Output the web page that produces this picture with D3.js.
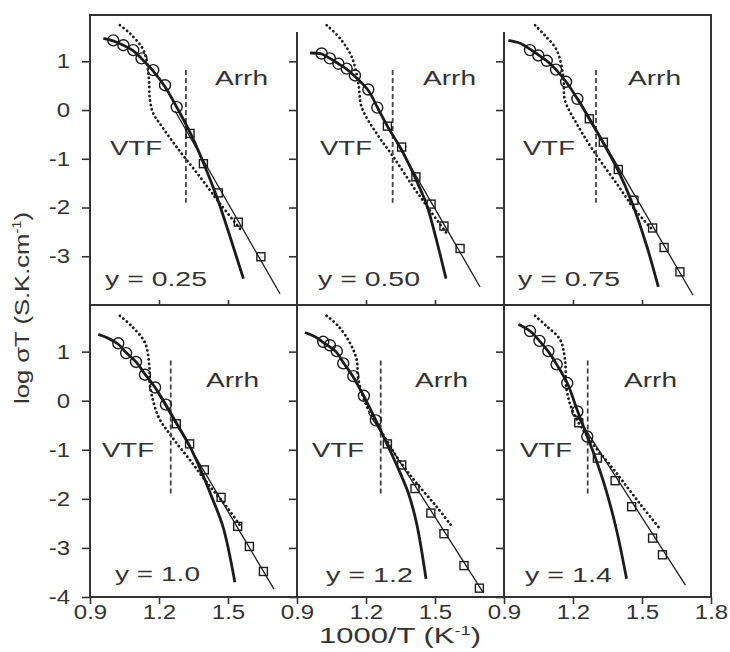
<!DOCTYPE html>
<html>
<head>
<meta charset="utf-8">
<script src="https://d3js.org/d3.v7.min.js"></script>
<style>
  body { margin: 0; background: #fff; }
  text { font-family: "Liberation Sans", Arial, sans-serif; fill: #333; }
</style>
</head>
<body>
<div id="chart"></div>
<script>
// panel captions (composition)
var panelLabels = ["y = 0.25", "y = 0.50", "y = 0.75", "y = 1.0", "y = 1.2", "y = 1.4"];
var xTicks = [0.9, 1.2, 1.5, 1.8];
var yTicksTop = [1, 0, -1, -2, -3];
var yTicksBottom = [1, 0, -1, -2, -3, -4];

// high temperature points (circles), [1000/T, log sigmaT]
var circleData = [
  [[1.001,1.43],[1.045,1.33],[1.088,1.23],[1.124,1.06],[1.175,0.82],[1.226,0.51],[1.277,0.06]],
  [[1.007,1.16],[1.043,1.06],[1.080,0.95],[1.116,0.85],[1.152,0.71],[1.210,0.42],[1.249,0.05]],
  [[1.013,1.23],[1.049,1.12],[1.086,1.01],[1.126,0.83],[1.170,0.58],[1.219,0.23]],
  [[1.023,1.17],[1.057,0.97],[1.100,0.79],[1.139,0.53],[1.183,0.27],[1.230,-0.08]],
  [[1.014,1.20],[1.043,1.13],[1.073,1.01],[1.101,0.76],[1.145,0.50],[1.191,0.10],[1.243,-0.40]],
  [[1.013,1.42],[1.054,1.22],[1.093,1.01],[1.129,0.74],[1.175,0.36],[1.219,-0.22],[1.262,-0.73]]
];

// low temperature points (squares)
var squareData = [
  [[1.335,-0.48],[1.393,-1.10],[1.458,-1.70],[1.545,-2.30],[1.643,-3.01]],
  [[1.293,-0.33],[1.355,-0.76],[1.417,-1.37],[1.483,-1.93],[1.539,-2.38],[1.609,-2.84]],
  [[1.271,-0.18],[1.332,-0.66],[1.397,-1.22],[1.465,-1.85],[1.546,-2.42],[1.596,-2.82],[1.665,-3.32]],
  [[1.275,-0.47],[1.333,-0.88],[1.397,-1.41],[1.470,-1.97],[1.542,-2.56],[1.593,-2.97],[1.654,-3.48]],
  [[1.293,-0.88],[1.355,-1.31],[1.413,-1.79],[1.482,-2.29],[1.539,-2.71],[1.626,-3.36],[1.693,-3.82]],
  [[1.225,-0.45],[1.306,-1.17],[1.383,-1.63],[1.455,-2.16],[1.546,-2.80],[1.589,-3.14]]
];

// VTF fit (thick curve)
var vtfFit = [
  [[0.958,1.47],[1.00,1.42],[1.045,1.33],[1.09,1.21],[1.125,1.05],[1.175,0.80],[1.226,0.48],[1.277,0.06],[1.335,-0.46],[1.393,-1.08],[1.451,-1.78],[1.509,-2.60],[1.567,-3.46]],
  [[0.957,1.17],[1.007,1.15],[1.043,1.06],[1.08,0.95],[1.116,0.84],[1.152,0.69],[1.21,0.40],[1.249,0.06],[1.293,-0.33],[1.355,-0.82],[1.417,-1.42],[1.464,-1.95],[1.50,-2.55],[1.548,-3.46]],
  [[0.919,1.43],[0.97,1.37],[1.013,1.25],[1.049,1.13],[1.086,1.01],[1.126,0.83],[1.17,0.58],[1.219,0.23],[1.271,-0.18],[1.332,-0.68],[1.397,-1.25],[1.455,-1.88],[1.52,-2.78],[1.571,-3.63]],
  [[0.936,1.35],[0.98,1.27],[1.023,1.15],[1.057,0.98],[1.10,0.79],[1.139,0.54],[1.183,0.27],[1.23,-0.08],[1.275,-0.45],[1.333,-0.92],[1.385,-1.45],[1.43,-1.97],[1.479,-2.58],[1.53,-3.70]],
  [[0.935,1.39],[0.98,1.30],[1.014,1.19],[1.073,0.98],[1.101,0.78],[1.145,0.48],[1.191,0.09],[1.243,-0.40],[1.293,-0.90],[1.34,-1.38],[1.384,-1.88],[1.42,-2.50],[1.461,-3.63]],
  [[0.963,1.56],[1.013,1.42],[1.054,1.22],[1.093,1.00],[1.129,0.74],[1.175,0.36],[1.219,-0.20],[1.262,-0.73],[1.30,-1.20],[1.343,-1.81],[1.39,-2.65],[1.433,-3.63]]
];

// Arrhenius fit (thin straight line)
var arrhFit = [
  [[1.27,-0.02],[1.726,-3.77]],
  [[1.25,0.02],[1.696,-3.63]],
  [[1.225,0.22],[1.722,-3.80]],
  [[1.19,0.19],[1.70,-3.84]],
  [[1.21,-0.24],[1.71,-3.91]],
  [[1.215,-0.30],[1.689,-3.76]]
];

// dotted curve
var dottedCurve = [
  [[1.030,1.74],[1.074,1.57],[1.132,1.23],[1.154,0.75],[1.161,0.20],[1.175,-0.07],[1.204,-0.28],[1.277,-0.76],[1.378,-1.37],[1.465,-1.92],[1.559,-2.47]],
  [[1.029,1.74],[1.087,1.47],[1.138,1.09],[1.167,0.54],[1.181,0.06],[1.246,-0.48],[1.319,-0.96],[1.406,-1.58],[1.478,-2.06],[1.551,-2.53]],
  [[1.035,1.74],[1.078,1.53],[1.129,1.23],[1.158,0.68],[1.165,0.20],[1.216,-0.28],[1.288,-0.83],[1.390,-1.51],[1.477,-2.09],[1.549,-2.47]],
  [[1.030,1.73],[1.081,1.52],[1.139,1.18],[1.158,0.70],[1.161,0.30],[1.197,-0.32],[1.255,-0.73],[1.335,-1.21],[1.422,-1.75],[1.494,-2.16],[1.552,-2.54]],
  [[1.029,1.73],[1.080,1.52],[1.130,1.18],[1.159,0.84],[1.167,0.43],[1.203,-0.11],[1.254,-0.52],[1.333,-1.14],[1.420,-1.68],[1.507,-2.16],[1.575,-2.57]],
  [[1.035,1.73],[1.085,1.52],[1.143,1.25],[1.165,0.84],[1.172,0.23],[1.202,-0.25],[1.274,-0.80],[1.390,-1.48],[1.491,-2.10],[1.578,-2.61]]
];

// vertical dashed line (crossover) position and its extent
var dashedX = [1.317, 1.316, 1.300, 1.251, 1.264, 1.264];
var dashedSpan = [0.82, -1.90];

// ---- layout ----
var width = 730, height = 652;
var left = 90, colW = 207;
var rows = [{top: 15, bottom: 305}, {top: 305, bottom: 597}];
var ink = "#1c1c1c";

// label offsets inside each panel (px from panel left / top)
var labelPos = [
  {arrh: [125, 70], vtf: [20, 140], cap: [15, 271], capW: 102},
  {arrh: [126, 70], vtf: [23, 140], cap: [21, 271], capW: 102},
  {arrh: [124, 70], vtf: [19, 140], cap: [14, 271], capW: 102},
  {arrh: [116, 82], vtf: [12, 152], cap: [25, 276], capW: 85},
  {arrh: [118, 82], vtf: [15, 152], cap: [29, 277], capW: 87},
  {arrh: [120, 82], vtf: [16, 152], cap: [21, 277], capW: 87}
];

var svg = d3.select("#chart").append("svg")
  .attr("width", width)
  .attr("height", height);

function stretch(sel, k) {
  sel.each(function() {
    var w = this.getComputedTextLength();
    d3.select(this).attr("textLength", w * k).attr("lengthAdjust", "spacingAndGlyphs");
  });
}

panelLabels.forEach(function(lab, i) {
  var c = i % 3, r = Math.floor(i / 3);
  var x0 = left + c * colW;
  var row = rows[r];
  var x = d3.scaleLinear().domain([0.9, 1.8]).range([x0, x0 + colW]);
  var y = d3.scaleLinear().domain([-4, 1.95]).range([row.bottom, row.top]);
  var g = svg.append("g");

  var line = d3.line().x(function(d) { return x(d[0]); }).y(function(d) { return y(d[1]); });
  var curve = d3.line().curve(d3.curveCatmullRom.alpha(0.5))
    .x(function(d) { return x(d[0]); }).y(function(d) { return y(d[1]); });

  // y axis ticks (outward, left)
  var yAxis = d3.axisLeft(y)
    .tickValues(r === 0 ? yTicksTop : yTicksBottom)
    .tickSize(8).tickPadding(12)
    .tickFormat(function(d) { return c === 0 ? String(d) : ""; });
  var ya = g.append("g").attr("transform", "translate(" + x0 + ",0)").call(yAxis);
  ya.select(".domain").remove();
  ya.selectAll("line").attr("stroke", "#333").attr("stroke-width", 1.6);
  ya.selectAll("text").style("font-size", "20px").attr("fill", "#333");
  stretch(ya.selectAll("text"), 1.2);

  if (r === 1) {
    var xAxis = d3.axisBottom(x)
      .tickValues(c === 2 ? xTicks : xTicks.slice(0, 3))
      .tickSize(7).tickPadding(1)
      .tickFormat(function(d) { return d.toFixed(1); });
    var xa = g.append("g").attr("transform", "translate(0," + row.bottom + ")").call(xAxis);
    xa.select(".domain").remove();
    xa.selectAll("line").attr("stroke", "#333").attr("stroke-width", 1.6);
    xa.selectAll("text").style("font-size", "20px").attr("fill", "#333");
    stretch(xa.selectAll("text"), 1.2);
  } else {
    var xAxisT = d3.axisBottom(x).tickValues([1.2, 1.5]).tickSize(-5).tickFormat("");
    var xt = g.append("g").attr("transform", "translate(0," + row.bottom + ")").call(xAxisT);
    xt.select(".domain").remove();
    xt.selectAll("line").attr("stroke", "#333").attr("stroke-width", 1.6);
  }

  // dotted curve
  g.append("path").datum(dottedCurve[i])
    .attr("d", curve).attr("fill", "none")
    .attr("stroke", ink).attr("stroke-width", 2.8)
    .attr("stroke-linecap", "round").attr("stroke-dasharray", "0.1,4.4");

  // vertical dashed line
  g.append("line")
    .attr("x1", x(dashedX[i])).attr("x2", x(dashedX[i]))
    .attr("y1", y(dashedSpan[0])).attr("y2", y(dashedSpan[1]))
    .attr("stroke", "#444").attr("stroke-width", 1.8)
    .attr("stroke-dasharray", "5,3");

  // VTF thick
  g.append("path").datum(vtfFit[i])
    .attr("d", curve).attr("fill", "none")
    .attr("stroke", ink).attr("stroke-width", 2.8);

  // Arrhenius thin
  g.append("path").datum(arrhFit[i])
    .attr("d", line).attr("fill", "none")
    .attr("stroke", ink).attr("stroke-width", 1.3);

  // circles
  g.selectAll(".circ").data(circleData[i]).enter().append("circle")
    .attr("cx", function(d) { return x(d[0]); })
    .attr("cy", function(d) { return y(d[1]); })
    .attr("r", 5.5)
    .attr("fill", "none").attr("stroke", ink).attr("stroke-width", 1.4);

  // squares
  g.selectAll(".sq").data(squareData[i]).enter().append("rect")
    .attr("x", function(d) { return x(d[0]) - 4; })
    .attr("y", function(d) { return y(d[1]) - 4; })
    .attr("width", 8).attr("height", 8)
    .attr("fill", "none").attr("stroke", ink).attr("stroke-width", 1.4);

  // labels
  var p = labelPos[i];
  g.append("text").attr("x", x0 + p.arrh[0]).attr("y", row.top + p.arrh[1])
    .style("font-size", "21px").attr("textLength", 53).attr("lengthAdjust", "spacingAndGlyphs")
    .text("Arrh");
  g.append("text").attr("x", x0 + p.vtf[0]).attr("y", row.top + p.vtf[1])
    .style("font-size", "21px").attr("textLength", 52).attr("lengthAdjust", "spacingAndGlyphs")
    .text("VTF");
  g.append("text").attr("x", x0 + p.cap[0]).attr("y", row.top + p.cap[1])
    .style("font-size", "20px").attr("textLength", p.capW).attr("lengthAdjust", "spacingAndGlyphs")
    .text(lab);
});

// frame
var frame = svg.append("g").attr("fill", "none").attr("stroke", "#333").attr("stroke-width", 2);
frame.append("rect").attr("x", left).attr("y", rows[0].top)
  .attr("width", colW * 3).attr("height", rows[1].bottom - rows[0].top);
frame.append("line").attr("x1", left).attr("x2", left + colW * 3)
  .attr("y1", rows[0].bottom).attr("y2", rows[0].bottom);
[1, 2].forEach(function(c) {
  frame.append("line").attr("x1", left + c * colW).attr("x2", left + c * colW)
    .attr("y1", rows[0].top + 17).attr("y2", rows[1].bottom);
});

// axis titles
var xt = svg.append("text").attr("x", 400).attr("y", 643)
  .attr("text-anchor", "middle").style("font-size", "22px");
xt.append("tspan").text("1000/T (K");
xt.append("tspan").attr("dy", -8).style("font-size", "13px").text("-1");
xt.append("tspan").attr("dy", 8).text(")");
xt.attr("textLength", 162).attr("lengthAdjust", "spacingAndGlyphs");

var yt = svg.append("text")
  .attr("transform", "translate(29,308) rotate(-90)")
  .attr("text-anchor", "middle").style("font-size", "21px");
yt.append("tspan").text("log \u03c3T (S.K.cm");
yt.append("tspan").attr("dy", -8).style("font-size", "12px").text("-1");
yt.append("tspan").attr("dy", 8).text(")");
yt.attr("textLength", 192).attr("lengthAdjust", "spacingAndGlyphs");
</script>
</body>
</html>
